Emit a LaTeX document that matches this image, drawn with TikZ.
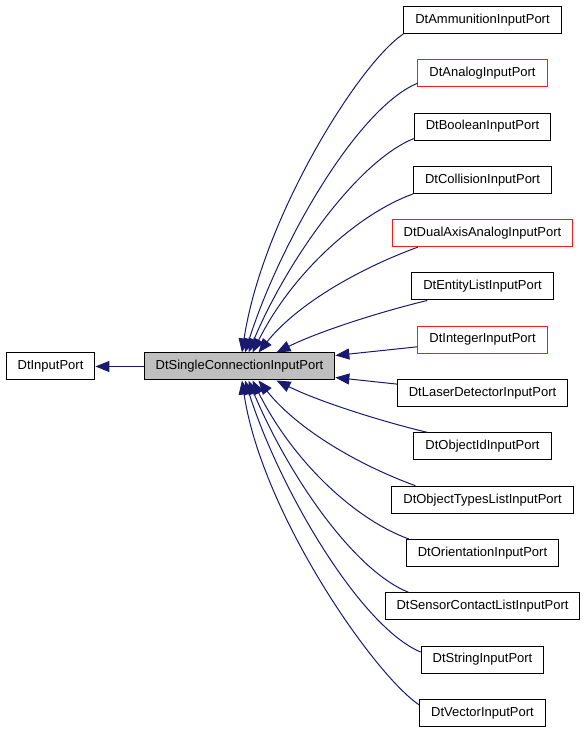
\documentclass[tikz,border=0pt]{standalone}
\usepackage{fontspec}
\setmainfont{Liberation Sans}
\usetikzlibrary{arrows.meta}
\definecolor{edgeblue}{HTML}{191970}
\definecolor{boxred}{HTML}{FF1A1A}
\definecolor{maingray}{HTML}{BFBFBF}
\tikzset{
  box/.style={draw=black, line width=1pt, fill=white, minimum height=27pt, inner xsep=11.5pt, inner ysep=0pt, font=\fontsize{13}{15}\selectfont},
  redbox/.style={box, draw=boxred},
  mainbox/.style={box, fill=maingray},
  edge/.style={draw=edgeblue, line width=1pt, -{Triangle[length=14pt,width=11pt]}},
}
\begin{document}
\begin{tikzpicture}[x=1pt,y=1pt]
\useasboundingbox (0,0) rectangle (587,733);
\node[box] (inp) at (50.5,366.5) {DtInputPort};
\node[mainbox] (main) at (239.5,366.5) {DtSingleConnectionInputPort};
\node[box]    (ammo)   at (482.5,713)   {DtAmmunitionInputPort};
\node[redbox] (analog) at (482.5,659.7) {DtAnalogInputPort};
\node[box]    (bool)   at (482.5,606.4) {DtBooleanInputPort};
\node[box]    (coll)   at (482.5,553.1) {DtCollisionInputPort};
\node[redbox] (dual)   at (482.5,499.8) {DtDualAxisAnalogInputPort};
\node[box]    (entity) at (482.5,446.5) {DtEntityListInputPort};
\node[redbox] (integer) at (482.5,393.2) {DtIntegerInputPort};
\node[box]    (laser)  at (482.5,339.9) {DtLaserDetectorInputPort};
\node[box]    (objid)  at (482.5,286.6) {DtObjectIdInputPort};
\node[box]    (objtyp) at (482.5,233.3) {DtObjectTypesListInputPort};
\node[box]    (orient) at (482.5,180)   {DtOrientationInputPort};
\node[box]    (sensor) at (482.5,126.7) {DtSensorContactListInputPort};
\node[box]    (string) at (482.5,73.4)  {DtStringInputPort};
\node[box]    (vector) at (482.5,20.1)  {DtVectorInputPort};
% edges
\draw[edge] (main.west) -- (inp.east);
\draw[edge] (ammo.south west) .. controls +(-45,-30) and +(20,133) .. ([xshift=2.5pt]main.north);
\draw[edge] ([yshift=-10pt]analog.west) .. controls +(-60,-25) and +(35,110) .. ([xshift=5.5pt]main.north);
\draw[edge] ([yshift=2pt]bool.south west) .. controls +(-55,-22) and +(40,95) .. ([xshift=9pt]main.north);
\draw[edge] (coll.south west) .. controls +(-55,-20) and +(40,80) .. ([xshift=13pt]main.north);
\draw[edge] ([xshift=26pt]dual.south west) .. controls +(-55,-20) and +(40,50) .. ([xshift=19pt]main.north);
\draw[edge] ([xshift=16pt]entity.south west) .. controls +(-50,-12) and +(40,20) .. ([xshift=37pt]main.north);
\draw[edge] ([yshift=-7pt]integer.west) -- ([yshift=11pt]main.east);
\draw[edge] ([yshift=9pt]laser.west) -- ([yshift=-11pt]main.east);
\draw[edge] ([xshift=14pt]objid.north west) .. controls +(-50,12) and +(40,-20) .. ([xshift=37pt]main.south);
\draw[edge] ([xshift=24pt]objtyp.north west) .. controls +(-55,20) and +(40,-50) .. ([xshift=19pt]main.south);
\draw[edge] ([xshift=3pt]orient.north west) .. controls +(-55,20) and +(40,-80) .. ([xshift=13pt]main.south);
\draw[edge] ([xshift=24pt]sensor.north west) .. controls +(-55,22) and +(40,-95) .. ([xshift=9pt]main.south);
\draw[edge] ([yshift=7.6pt]string.west) .. controls +(-60,25) and +(35,-110) .. ([xshift=5.5pt]main.south);
\draw[edge] ([yshift=8pt]vector.west) .. controls +(-45,30) and +(20,-133) .. ([xshift=2.5pt]main.south);
\end{tikzpicture}
\end{document}
